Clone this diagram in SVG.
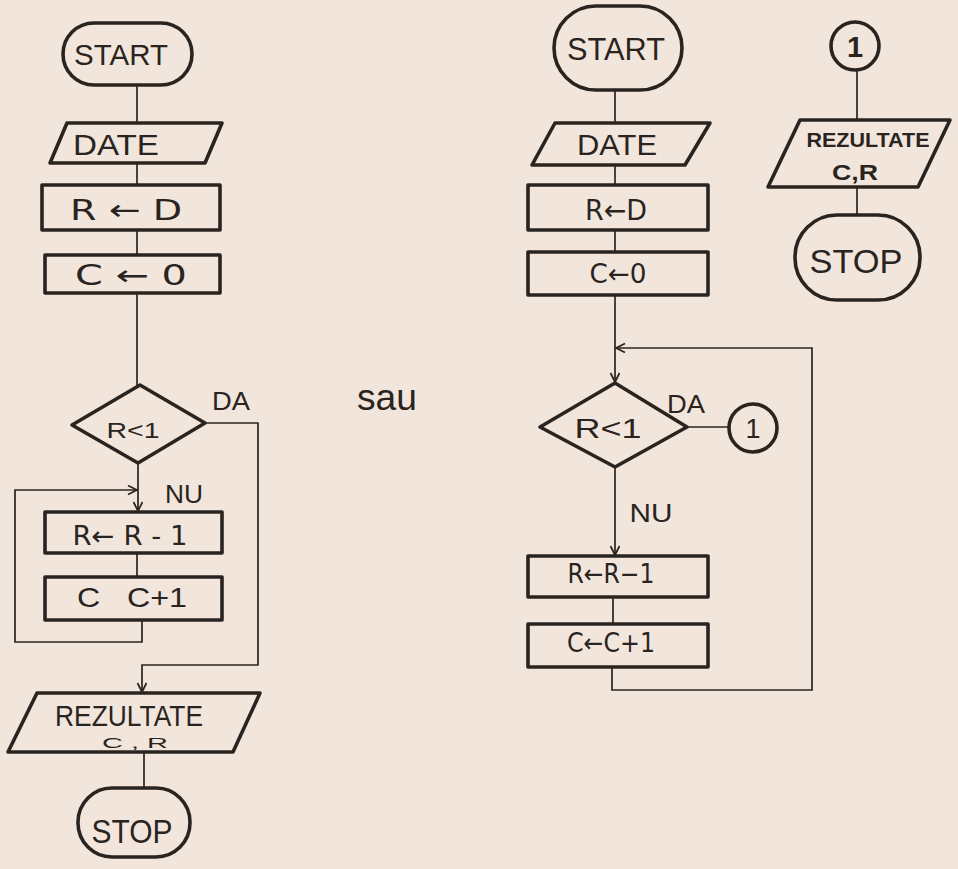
<svg xmlns="http://www.w3.org/2000/svg" width="958" height="869" viewBox="0 0 958 869">
<defs>
<style>
.bg{fill:#f2e6dc}
.n{fill:none;stroke:#2a2421;stroke-width:3.6;stroke-linejoin:round}
.c{fill:none;stroke:#2a2421;stroke-width:1.7}
.t{font-family:"Liberation Sans","DejaVu Sans",sans-serif;fill:#2a2421;text-anchor:middle}
.b{font-weight:bold}
.ar{font-family:"DejaVu Sans","Liberation Sans",sans-serif}
</style>
<marker id="ah" markerWidth="14" markerHeight="14" refX="10" refY="5" orient="auto" markerUnits="userSpaceOnUse">
<path d="M1,0.5 L10,5 L1,9.5" fill="none" stroke="#2a2421" stroke-width="1.7"/>
</marker>
</defs>
<rect class="bg" x="0" y="0" width="958" height="869"/>

<g id="connectors">
<!-- left chart -->
<path class="c" d="M137,85 V123"/>
<path class="c" d="M137,163 V185"/>
<path class="c" d="M137,230 V255"/>
<path class="c" d="M137,293 V385"/>
<path class="c" d="M205,423 H258 V665 H142 V692" marker-end="url(#ah)"/>
<path class="c" d="M138,463 V511" marker-end="url(#ah)"/>
<path class="c" d="M142,620 V642 H15 V490 H137" marker-end="url(#ah)"/>
<path class="c" d="M137,553 V577"/>
<path class="c" d="M144,752 V788"/>
<!-- middle chart -->
<path class="c" d="M615,90 V123"/>
<path class="c" d="M615,165 V185"/>
<path class="c" d="M615,230 V252"/>
<path class="c" d="M615,295 V382" marker-end="url(#ah)"/>
<path class="c" d="M612,667 V690 H812 V348 H616" marker-end="url(#ah)"/>
<path class="c" d="M687,427 H729"/>
<path class="c" d="M615,467 V555" marker-end="url(#ah)"/>
<path class="c" d="M613,597 V624"/>
<!-- right chart -->
<path class="c" d="M857,70 V120"/>
<path class="c" d="M857,187 V215"/>
</g>

<g id="l-start">
<rect class="n" x="63" y="23" width="129" height="62" rx="31"/>
<text class="t" x="121" y="65" font-size="30" textLength="94" lengthAdjust="spacingAndGlyphs">START</text>
</g>
<g id="l-date">
<polygon class="n" points="67,123 222,123 205,163 50,163"/>
<text class="t" x="116" y="155" font-size="30" textLength="86" lengthAdjust="spacingAndGlyphs">DATE</text>
</g>
<g id="l-rd">
<rect class="n" x="42" y="185" width="178" height="45"/>
<text class="t ar" x="126" y="220" font-size="29" textLength="112" lengthAdjust="spacingAndGlyphs">R ← D</text>
</g>
<g id="l-c0">
<rect class="n" x="45" y="255" width="175" height="38"/>
<text class="t ar" x="131" y="285" font-size="28" textLength="112" lengthAdjust="spacingAndGlyphs">C ← 0</text>
</g>
<g id="l-cond">
<polygon class="n" points="140,385 205,423 138,463 72,425"/>
<text class="t" x="133" y="438" font-size="22" textLength="53" lengthAdjust="spacingAndGlyphs">R&lt;1</text>
</g>
<g id="l-labels">
<text class="t" x="231" y="410" font-size="25" textLength="38" lengthAdjust="spacingAndGlyphs">DA</text>
<text class="t" x="184" y="503" font-size="25" textLength="38" lengthAdjust="spacingAndGlyphs">NU</text>
</g>
<g id="l-rr">
<rect class="n" x="45" y="512" width="177" height="41"/>
<text class="t ar" x="130" y="545" font-size="26" textLength="115" lengthAdjust="spacingAndGlyphs" xml:space="preserve">R← R - 1</text>
</g>
<g id="l-cc">
<rect class="n" x="45" y="577" width="177" height="43"/>
<text class="t" x="132" y="607" font-size="28" textLength="110" lengthAdjust="spacingAndGlyphs" xml:space="preserve">C   C+1</text>
</g>
<g id="l-rez">
<polygon class="n" points="37,693 260,693 233,752 8,752"/>
<text class="t" x="129" y="726" font-size="30" textLength="148" lengthAdjust="spacingAndGlyphs">REZULTATE</text>
<text class="t" x="135" y="748" font-size="15" textLength="66" lengthAdjust="spacingAndGlyphs" xml:space="preserve">C , R</text>
</g>
<g id="l-stop">
<rect class="n" x="78" y="788" width="112" height="69" rx="34"/>
<text class="t" x="132" y="843" font-size="34" textLength="81" lengthAdjust="spacingAndGlyphs">STOP</text>
</g>

<g id="sau">
<text class="t" x="387" y="410" font-size="36" textLength="60" lengthAdjust="spacingAndGlyphs">sau</text>
</g>

<g id="m-start">
<rect class="n" x="554" y="6" width="128" height="84" rx="42"/>
<text class="t" x="616" y="60" font-size="31" textLength="98" lengthAdjust="spacingAndGlyphs">START</text>
</g>
<g id="m-date">
<polygon class="n" points="555,123 710,123 685,165 532,165"/>
<text class="t" x="617" y="155" font-size="30" textLength="80" lengthAdjust="spacingAndGlyphs">DATE</text>
</g>
<g id="m-rd">
<rect class="n" x="528" y="185" width="180" height="45"/>
<text class="t ar" x="616" y="220" font-size="28" textLength="62" lengthAdjust="spacingAndGlyphs">R←D</text>
</g>
<g id="m-c0">
<rect class="n" x="528" y="252" width="180" height="43"/>
<text class="t ar" x="618" y="283" font-size="27" textLength="57" lengthAdjust="spacingAndGlyphs">C←0</text>
</g>
<g id="m-cond">
<polygon class="n" points="615,383 687,427 615,467 540,427"/>
<text class="t" x="608" y="438" font-size="28" textLength="67" lengthAdjust="spacingAndGlyphs">R&lt;1</text>
</g>
<g id="m-labels">
<text class="t" x="686" y="413" font-size="25" textLength="38" lengthAdjust="spacingAndGlyphs">DA</text>
<text class="t" x="651" y="522" font-size="26" textLength="43" lengthAdjust="spacingAndGlyphs">NU</text>
</g>
<g id="m-conn1">
<circle class="n" cx="753" cy="428" r="24"/>
<text class="t" x="753" y="438" font-size="27">1</text>
</g>
<g id="m-rr">
<rect class="n" x="528" y="556" width="180" height="41"/>
<text class="t ar" x="611" y="583" font-size="26" textLength="87" lengthAdjust="spacingAndGlyphs">R←R−1</text>
</g>
<g id="m-cc">
<rect class="n" x="528" y="624" width="180" height="43"/>
<text class="t ar" x="611" y="652" font-size="26" textLength="88" lengthAdjust="spacingAndGlyphs">C←C+1</text>
</g>

<g id="r-conn1">
<circle class="n" cx="855" cy="46" r="24"/>
<text class="t b" x="855" y="57" font-size="29">1</text>
</g>
<g id="r-rez">
<polygon class="n" points="800,120 950,120 918,187 768,187"/>
<text class="t b" x="868" y="147" font-size="20" textLength="123" lengthAdjust="spacingAndGlyphs">REZULTATE</text>
<text class="t b" x="855" y="180" font-size="22" textLength="46" lengthAdjust="spacingAndGlyphs">C,R</text>
</g>
<g id="r-stop">
<rect class="n" x="795" y="215" width="125" height="85" rx="42"/>
<text class="t" x="856" y="273" font-size="33" textLength="93" lengthAdjust="spacingAndGlyphs">STOP</text>
</g>
</svg>
